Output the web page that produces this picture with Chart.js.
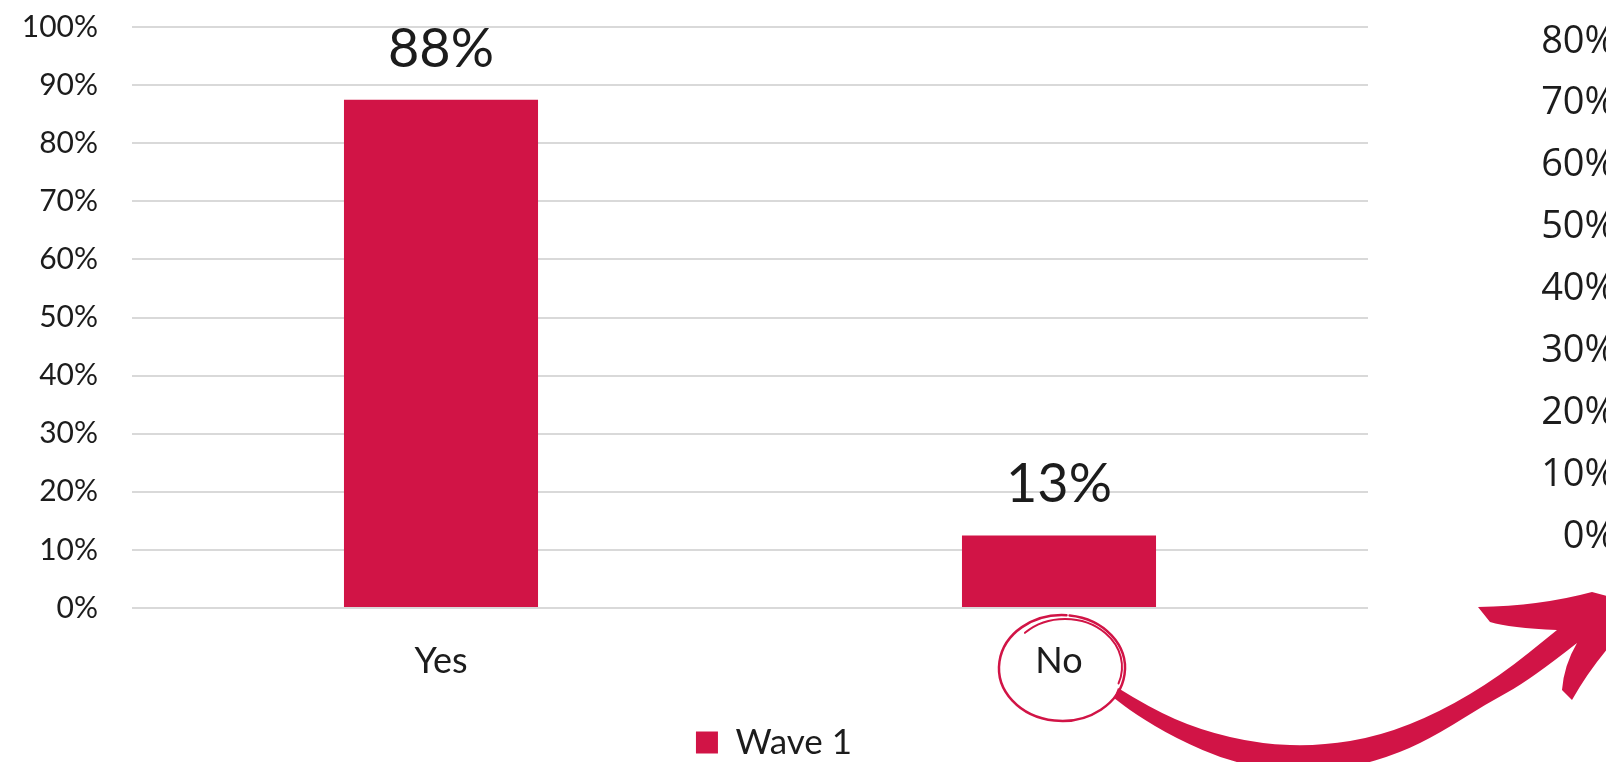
<!DOCTYPE html>
<html>
<head>
<meta charset="utf-8">
<script src="https://cdn.jsdelivr.net/npm/chart.js@4.4.0/dist/chart.umd.min.js"></script>
<style>
  html, body { margin: 0; padding: 0; background: #fff; }
</style>
</head>
<body>
<canvas id="surveyChart" width="1606" height="762"></canvas>
<script>
const categories = ['Yes', 'No'];
const wave1 = [0.875, 0.125];
const seriesLabel = 'Wave 1';
// tick labels of the neighbouring chart, cut off at the right edge
const sideTicks = ['80%', '70%', '60%', '50%', '40%', '30%', '20%', '10%', '0%'];

const crimson = '#d11446';
const ink = '#1c1c1c';

Chart.defaults.font.family = 'Lato, "Noto Sans", sans-serif';

const pct = v => Math.round(v * 100) + '%';

// big value labels above each bar
const barLabels = {
  id: 'barLabels',
  afterDatasetsDraw(chart) {
    const ctx = chart.ctx;
    const values = chart.data.datasets[0].data;
    ctx.save();
    ctx.font = '54px Lato';
    ctx.fillStyle = ink;
    ctx.textAlign = 'center';
    ctx.textBaseline = 'alphabetic';
    chart.getDatasetMeta(0).data.forEach((bar, i) => {
      ctx.fillText(pct(values[i]), bar.x, bar.y - 33);
    });
    ctx.restore();
  }
};

// draw a smooth curve through points (current point must be pts[0])
function smoothThrough(ctx, pts) {
  for (let i = 1; i < pts.length - 1; i++) {
    const mx = (pts[i][0] + pts[i + 1][0]) / 2;
    const my = (pts[i][1] + pts[i + 1][1]) / 2;
    ctx.quadraticCurveTo(pts[i][0], pts[i][1], mx, my);
  }
  const last = pts[pts.length - 1];
  ctx.lineTo(last[0], last[1]);
}

// hand drawn circle around "No", the arrow and the clipped axis on the right
const annotations = {
  id: 'annotations',
  afterDraw(chart) {
    const ctx = chart.ctx;
    ctx.save();

    // partial axis labels of the next chart
    ctx.font = '38px "Open Sans"';
    ctx.fillStyle = ink;
    ctx.textAlign = 'right';
    ctx.textBaseline = 'middle';
    sideTicks.forEach((t, i) => ctx.fillText(t, 1616, 41.7 + i * 61.9));

    // circle, two loose loops
    const cx = chart.scales.x.getPixelForValue(1) + 3;
    const cy = 668;
    ctx.strokeStyle = crimson;
    ctx.lineCap = 'round';
    ctx.lineWidth = 2.5;
    ctx.beginPath();
    ctx.ellipse(cx, cy, 63, 53, 0, -1.45, -1.45 + Math.PI * 2 - 0.05, false);
    ctx.stroke();
    ctx.lineWidth = 2;
    ctx.beginPath();
    ctx.ellipse(cx + 3, cy - 1, 57, 48, 0, -2.35, 0.35, false);
    ctx.stroke();

    // arrow
    const topEdge = [[1118, 688], [1150, 708], [1200, 730], [1260, 744], [1320, 746],
      [1380, 736], [1440, 712], [1500, 676], [1557, 630]];
    const bottomEdge = [[1577, 643], [1530, 680], [1486, 704], [1440, 733], [1400, 753],
      [1350, 768], [1290, 772], [1230, 762], [1175, 738], [1135, 714], [1114, 698]];
    ctx.fillStyle = crimson;
    ctx.beginPath();
    ctx.moveTo(topEdge[0][0], topEdge[0][1]);
    smoothThrough(ctx, topEdge);
    ctx.quadraticCurveTo(1510, 628, 1490, 622);
    ctx.lineTo(1478, 607);
    ctx.quadraticCurveTo(1540, 606, 1592, 592);
    ctx.lineTo(1615, 598);
    ctx.lineTo(1615, 640);
    ctx.quadraticCurveTo(1590, 668, 1572, 700);
    ctx.lineTo(1562, 690);
    ctx.quadraticCurveTo(1564, 665, 1577, 643);
    smoothThrough(ctx, bottomEdge);
    ctx.closePath();
    ctx.fill();

    ctx.restore();
  }
};

new Chart(document.getElementById('surveyChart'), {
  type: 'bar',
  data: {
    labels: categories,
    datasets: [{
      label: seriesLabel,
      data: wave1,
      backgroundColor: crimson,
      barPercentage: 0.314,
      categoryPercentage: 1,
    }],
  },
  options: {
    responsive: false,
    animation: false,
    devicePixelRatio: 1,
    layout: { padding: { top: 27, right: 58, bottom: -8, left: 0 } },
    plugins: {
      legend: {
        position: 'bottom',
        labels: { font: { size: 35 }, color: ink, boxWidth: 22, boxHeight: 22, padding: 10 },
      },
      tooltip: { enabled: false },
    },
    scales: {
      x: {
        grid: { display: false },
        border: { display: false },
        ticks: { font: { size: 36 }, color: ink, padding: 24 },
        afterFit: s => { s.height = 107; },
      },
      y: {
        min: 0,
        max: 1,
        ticks: { stepSize: 0.1, callback: v => pct(v), font: { size: 30 }, color: ink, padding: 34 },
        grid: { color: '#d9d9d9', lineWidth: 2, drawTicks: false },
        border: { display: false },
        afterFit: s => { s.width = 132; s.paddingTop = 0; s.paddingBottom = 0; },
      },
      // empty strip where the neighbouring chart's axis sits
      side: {
        type: 'linear',
        position: 'right',
        grid: { display: false },
        border: { display: false },
        ticks: { display: false },
        afterFit: s => { s.width = 180; },
      },
    },
  },
  plugins: [barLabels, annotations],
});
</script>
</body>
</html>
